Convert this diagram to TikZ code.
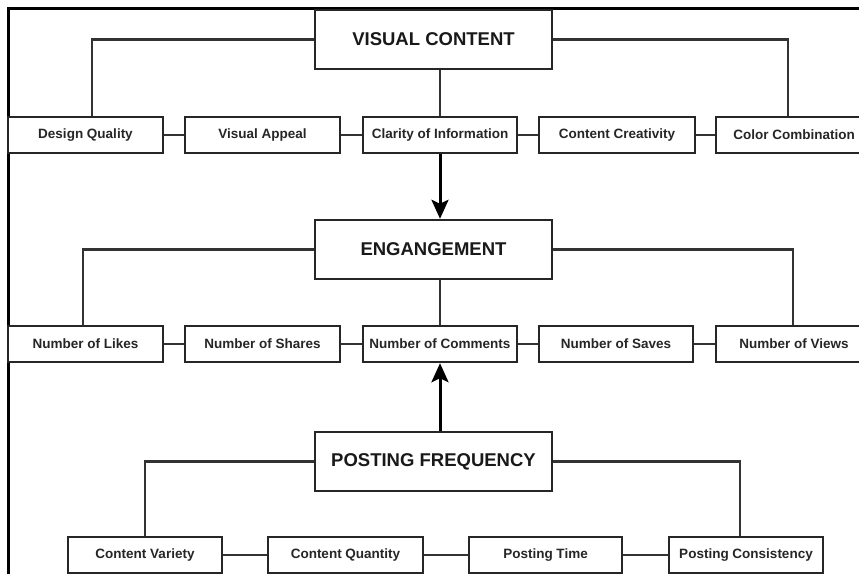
\documentclass[tikz,border=0pt]{standalone}
\usepackage{fontspec}
\setmainfont{Liberation Sans}
\usetikzlibrary{arrows.meta}
\begin{document}
\begin{tikzpicture}[x=1pt,y=-1pt,
  catbox/.style={draw=black!85, line width=2.4pt, fill=white, inner sep=0pt, minimum width=237pt, minimum height=59pt, font=\fontsize{18.5}{20}\selectfont\bfseries, text=black!90},
  itembox/.style={draw=black!85, line width=2.4pt, fill=white, inner sep=0pt, minimum height=36pt, font=\fontsize{13.5}{15}\selectfont\bfseries, text=black!85},
  link/.style={draw=black!80, line width=2.2pt},
  bigarrow/.style={draw=black, line width=3pt, -{Stealth[length=19pt,width=17pt,inset=4pt]}}
]
\clip (0,0) rectangle (859,573);
\fill[white] (0,0) rectangle (859,573);
\draw[line width=3pt] (8,8) rectangle (880,600);

% top group
\node[catbox] (vc) at (433.5,39.5) {VISUAL CONTENT};
\node[itembox, minimum width=155pt] (dq) at (85.5,135) {Design Quality};
\node[itembox, minimum width=155pt] (va) at (262.5,135) {Visual Appeal};
\node[itembox, minimum width=154pt] (ci) at (440,135) {Clarity of Information};
\node[itembox, minimum width=156pt] (cc) at (617,135) {Content Creativity};
\node[itembox, minimum width=156pt] (co) at (794,135) {Color Combination};

% middle group
\node[catbox] (en) at (433.5,249.5) {ENGANGEMENT};
\node[itembox, minimum width=155pt] (nl) at (85.5,344) {Number of Likes};
\node[itembox, minimum width=155pt] (ns) at (262.5,344) {Number of Shares};
\node[itembox, minimum width=154pt] (nc) at (440,344) {Number of Comments};
\node[itembox, minimum width=154pt] (nsv) at (616,344) {Number of Saves};
\node[itembox, minimum width=156pt] (nv) at (794,344) {Number of Views};

% bottom group
\node[catbox] (pf) at (433.5,461.5) {POSTING FREQUENCY};
\node[itembox, minimum width=154pt] (cv) at (145,555) {Content Variety};
\node[itembox, minimum width=155pt] (cq) at (345.5,555) {Content Quantity};
\node[itembox, minimum width=153pt] (pt) at (545.5,555) {Posting Time};
\node[itembox, minimum width=154pt] (pc) at (746,555) {Posting Consistency};

% top connectors
\draw[link] (vc.west) -| ([xshift=6.5pt]dq.north);
\draw[link] (vc.east) -| ([xshift=-6pt]co.north);
\draw[link] (vc.south -| ci.north) -- (ci.north);
\draw[link] (dq) -- (va);
\draw[link] (va) -- (ci);
\draw[link] (ci) -- (cc);
\draw[link] (cc) -- (co);

% middle connectors
\draw[link] (en.west) -| ([xshift=-2.5pt]nl.north);
\draw[link] (en.east) -| ([xshift=-1pt]nv.north);
\draw[link] (en.south -| nc.north) -- (nc.north);
\draw[link] (nl) -- (ns);
\draw[link] (ns) -- (nc);
\draw[link] (nc) -- (nsv);
\draw[link] (nsv) -- (nv);

% bottom connectors
\draw[link] (pf.west) -| (cv.north);
\draw[link] (pf.east) -| ([xshift=-6pt]pc.north);
\draw[link] (cv) -- (cq);
\draw[link] (cq) -- (pt);
\draw[link] (pt) -- (pc);

% arrows
\draw[bigarrow] (ci.south) -- (ci.south |- en.north);
\draw[bigarrow] (nc.south |- pf.north) -- (nc.south);
\end{tikzpicture}
\end{document}
